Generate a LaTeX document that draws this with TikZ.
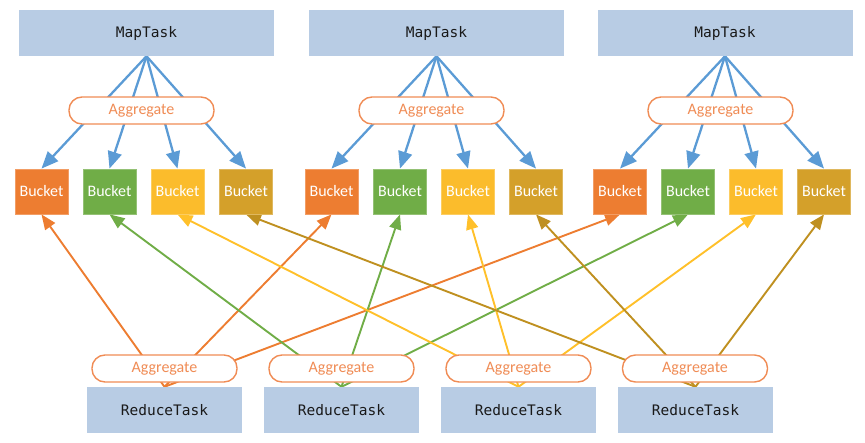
\documentclass[tikz,border=0pt]{standalone}
\usepackage{fontspec}
\setmainfont{Carlito}
\newfontfamily\monofont{DejaVu Sans Mono}
\usetikzlibrary{arrows.meta,backgrounds}
\definecolor{taskblue}{HTML}{B8CCE4}
\definecolor{lineblue}{HTML}{5B9BD5}
\definecolor{corange}{HTML}{ED7D31}
\definecolor{cgreen}{HTML}{70AD47}
\definecolor{cyellow}{HTML}{FBBC2C}
\definecolor{cgold}{HTML}{D4A02A}
\definecolor{lorange}{HTML}{ED7D31}
\definecolor{lgreen}{HTML}{70AD47}
\definecolor{lyellow}{HTML}{FFC02A}
\definecolor{lgold}{HTML}{BF9020}
\definecolor{aggorange}{HTML}{F08C55}
\tikzset{
  task/.style={fill=taskblue, minimum height=46pt, inner sep=0pt, font=\monofont\fontsize{14.5}{16}\selectfont, text=black!90},
  maptask/.style={task, minimum width=255pt},
  redtask/.style={task, minimum width=155pt},
  agg/.style={draw=aggorange, line width=1.4pt, fill=white, rounded corners=13pt, minimum width=145pt, minimum height=27pt, inner sep=0pt, text=aggorange, font=\fontsize{16}{18}\selectfont},
  bucket/.style={fill=#1, draw=#1!75!white, line width=0.8pt, minimum width=53pt, minimum height=45pt, inner sep=0pt, text=white, font=\fontsize{16}{18}\selectfont},
  maparrow/.style={draw=lineblue, line width=2.3pt, -{Triangle[length=17pt,width=14pt]}},
  redarrow/.style={draw=#1, line width=1.9pt, -{Triangle[length=15pt,width=12pt]}},
}
\begin{document}
\begin{tikzpicture}[x=1pt,y=-1pt]
\useasboundingbox (0,0) rectangle (865,442);
% map tasks
\node[maptask] (m1) at (146.5,33) {MapTask};
\node[maptask] (m2) at (436.5,33) {MapTask};
\node[maptask] (m3) at (725,33) {MapTask};
% top aggregates
\node[agg] (ta1) at (141.5,110.5) {Aggregate};
\node[agg] (ta2) at (431.5,110.5) {Aggregate};
\node[agg] (ta3) at (720.5,110.5) {Aggregate};
% buckets
\node[bucket=corange] (b1o) at (41.5,191.5) {Bucket};
\node[bucket=cgreen]  (b1g) at (109.5,191.5) {Bucket};
\node[bucket=cyellow] (b1y) at (177.5,191.5) {Bucket};
\node[bucket=cgold]   (b1d) at (246,191.5) {Bucket};
\node[bucket=corange] (b2o) at (331.5,191.5) {Bucket};
\node[bucket=cgreen]  (b2g) at (400,191.5) {Bucket};
\node[bucket=cyellow] (b2y) at (468,191.5) {Bucket};
\node[bucket=cgold]   (b2d) at (536,191.5) {Bucket};
\node[bucket=corange] (b3o) at (620,191.5) {Bucket};
\node[bucket=cgreen]  (b3g) at (688,191.5) {Bucket};
\node[bucket=cyellow] (b3y) at (756,191.5) {Bucket};
\node[bucket=cgold]   (b3d) at (824,191.5) {Bucket};
% reduce tasks
\node[redtask] (r1) at (164.5,410) {ReduceTask};
\node[redtask] (r2) at (341.5,410) {ReduceTask};
\node[redtask] (r3) at (518.5,410) {ReduceTask};
\node[redtask] (r4) at (695.5,410) {ReduceTask};
% bottom aggregates
\node[agg] (ba1) at (164.5,368.5) {Aggregate};
\node[agg] (ba2) at (341.5,368.5) {Aggregate};
\node[agg] (ba3) at (518.5,368.5) {Aggregate};
\node[agg] (ba4) at (695,368.5) {Aggregate};
\begin{scope}[on background layer]
\foreach \m/\g in {m1/1,m2/2,m3/3}{
  \foreach \c in {o,g,y,d}{
    \draw[maparrow] (\m.south) -- (b\g\c.north);
  }
}
\foreach \r/\c/\col in {r1/o/lorange,r2/g/lgreen,r3/y/lyellow,r4/d/lgold}{
  \foreach \g in {1,2,3}{
    \draw[redarrow=\col] (\r.north) -- (b\g\c.south);
  }
}
\end{scope}
\end{tikzpicture}
\end{document}
